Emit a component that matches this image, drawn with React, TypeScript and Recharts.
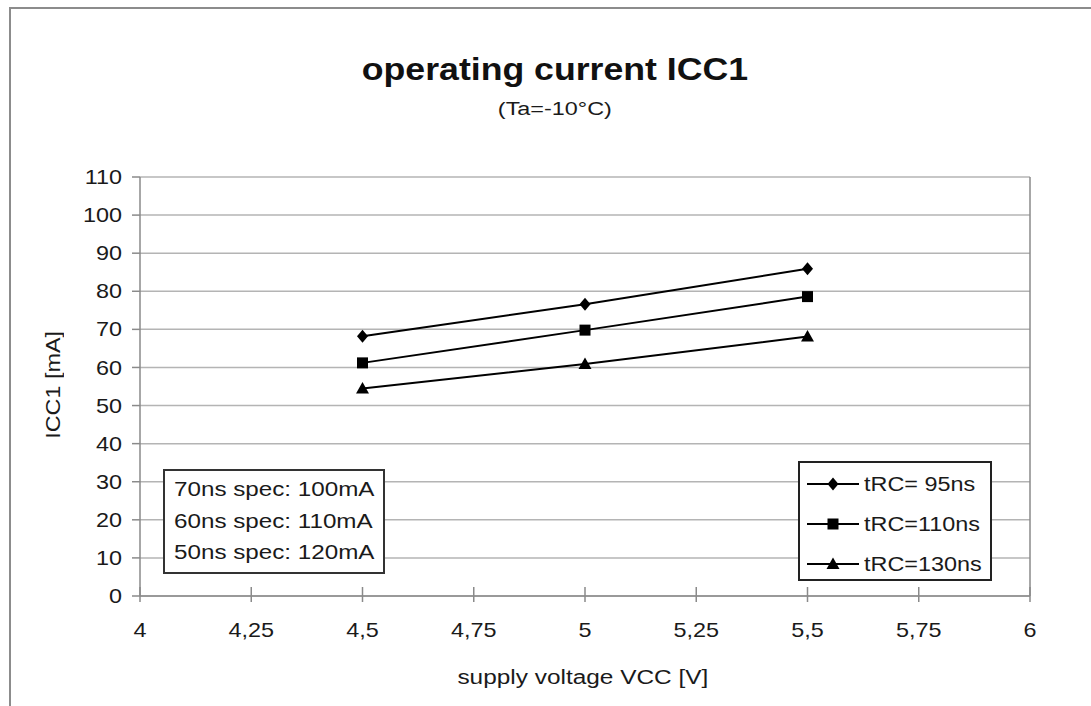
import React from 'react';
import { LineChart, Line, XAxis, YAxis, CartesianGrid, ReferenceLine, Legend } from 'recharts';

const voltages = [4.5, 5, 5.5];
const icc95 = [68.2, 76.6, 85.9];
const icc110 = [61.2, 69.8, 78.6];
const icc130 = [54.5, 60.9, 68.1];

const xTicks = [4, 4.25, 4.5, 4.75, 5, 5.25, 5.5, 5.75, 6];
const yTicks = [0, 10, 20, 30, 40, 50, 60, 70, 80, 90, 100, 110];

const seriesNames = ['tRC= 95ns', 'tRC=110ns', 'tRC=130ns'];
const specNotes = ['70ns spec: 100mA', '60ns spec: 110mA', '50ns spec: 120mA'];

const data = voltages.map((v, i) => ({ v, a: icc95[i], b: icc110[i], c: icc130[i] }));

const FONT = '"Liberation Sans", Arial, Helvetica, sans-serif';
const X_TICK_SIZE = 6;
const X_TICK_MARGIN = 21;
// the scanned original has slightly stretched lettering
const STRETCH = 1.17;

type Shape = 'diamond' | 'square' | 'triangle';

function marker(shape: Shape, cx: number, cy: number, key?: string | number) {
  if (shape === 'diamond') {
    return <path key={key} d={`M${cx},${cy - 6.5}L${cx + 5.5},${cy}L${cx},${cy + 6.5}L${cx - 5.5},${cy}Z`} fill="#000" />;
  }
  if (shape === 'square') {
    return <rect key={key} x={cx - 5.5} y={cy - 5.5} width={11} height={11} fill="#000" />;
  }
  return <path key={key} d={`M${cx},${cy - 6.5}L${cx + 6.5},${cy + 5}L${cx - 6.5},${cy + 5}Z`} fill="#000" />;
}

const dotFor = (shape: Shape) => (p: any) => marker(shape, p.cx, p.cy, `${shape}-${p.index}`);

const XTick = (props: any) => {
  const { x, y, payload } = props;
  const axisY = y - X_TICK_SIZE - X_TICK_MARGIN;
  return (
    <g>
      <line x1={x} x2={x} y1={axisY - 9} y2={axisY} stroke="#8a8a8a" strokeWidth={1.5} />
      <text transform={`translate(${x},${y}) scale(${STRETCH},1)`} dy="0.71em" textAnchor="middle" fontSize={20} fill="#1a1a1a">
        {String(payload.value).replace('.', ',')}
      </text>
    </g>
  );
};

const YTick = (props: any) => {
  const { x, y, payload } = props;
  return (
    <text transform={`translate(${x + 1},${y}) scale(${STRETCH},1)`} dy="0.355em" textAnchor="end" fontSize={20} fill="#1a1a1a">
      {payload.value}
    </text>
  );
};

const Stretched = ({ children, k = STRETCH, origin = 'center' }: { children: React.ReactNode; k?: number; origin?: string }) => (
  <span style={{ display: 'inline-block', transform: `scaleX(${k})`, transformOrigin: origin, whiteSpace: 'pre' }}>{children}</span>
);

const shapes: Shape[] = ['diamond', 'square', 'triangle'];

const LegendBox = () => (
  <div
    style={{
      width: 194,
      height: 120,
      boxSizing: 'border-box',
      border: '2px solid #222',
      background: '#fff',
      paddingTop: 8,
      fontFamily: FONT,
    }}
  >
    {seriesNames.map((name, i) => (
      <div key={name} style={{ display: 'flex', alignItems: 'center', height: 40, marginTop: i === 0 ? -7 : 0 }}>
        <svg width={60} height={20} style={{ marginLeft: 7 }}>
          <line x1={0} x2={52} y1={10} y2={10} stroke="#000" strokeWidth={2} />
          {marker(shapes[i], 26, 10)}
        </svg>
        <span style={{ fontSize: 20, color: '#1a1a1a', marginLeft: -3 }}>
          <Stretched origin="left">{name}</Stretched>
        </span>
      </div>
    ))}
  </div>
);

export default function App() {
  return (
    <div
      style={{
        position: 'fixed',
        left: 0,
        top: 0,
        width: 1091,
        height: 706,
        overflow: 'hidden',
        background: '#fff',
        fontFamily: FONT,
      }}
    >
      <div
        style={{
          position: 'absolute',
          left: 9,
          top: 7,
          width: 1300,
          height: 900,
          border: '2px solid #8c8c8c',
        }}
      />
      <div style={{ position: 'absolute', left: 0, top: 0 }}>
        <LineChart width={1091} height={706} data={data} margin={{ top: 177, right: 61, bottom: 0, left: 0 }}>
          <CartesianGrid vertical={false} stroke="#b4b4b4" strokeWidth={1.5} />
          <XAxis
            dataKey="v"
            type="number"
            domain={[4, 6]}
            ticks={xTicks}
            interval={0}
            height={110}
            tickSize={X_TICK_SIZE}
            tickMargin={X_TICK_MARGIN}
            tick={<XTick />}
            stroke="#8a8a8a"
            strokeWidth={1.5}
          />
          <YAxis
            type="number"
            domain={[0, 110]}
            ticks={yTicks}
            interval={0}
            width={140}
            tickSize={8}
            tickMargin={11}
            tick={<YTick />}
            stroke="#8a8a8a"
            strokeWidth={1.5}
          />
          <ReferenceLine x={6} stroke="#8a8a8a" strokeWidth={1.5} />
          <Line dataKey="a" name={seriesNames[0]} stroke="#000" strokeWidth={2} dot={dotFor('diamond')} isAnimationActive={false} />
          <Line dataKey="b" name={seriesNames[1]} stroke="#000" strokeWidth={2} dot={dotFor('square')} isAnimationActive={false} />
          <Line dataKey="c" name={seriesNames[2]} stroke="#000" strokeWidth={2} dot={dotFor('triangle')} isAnimationActive={false} />
          <Legend
            layout="horizontal"
            verticalAlign="middle"
            align="center"
            content={<LegendBox />}
            wrapperStyle={{ position: 'absolute', left: 798, top: 461, width: 194, height: 120 }}
          />
        </LineChart>
      </div>
      <div
        style={{
          position: 'absolute',
          left: 0,
          width: 1110,
          top: 52,
          textAlign: 'center',
          fontSize: 31,
          fontWeight: 'bold',
          color: '#111',
          lineHeight: '36px',
        }}
      >
        <Stretched k={1.15}>operating current ICC1</Stretched>
      </div>
      <div
        style={{
          position: 'absolute',
          left: 0,
          width: 1110,
          top: 98,
          textAlign: 'center',
          fontSize: 18,
          color: '#1a1a1a',
          lineHeight: '22px',
        }}
      >
        <Stretched k={1.3}>(Ta=-10°C)</Stretched>
      </div>
      <div
        style={{
          position: 'absolute',
          left: 53 - 100,
          top: 385 - 12,
          width: 200,
          height: 24,
          lineHeight: '24px',
          textAlign: 'center',
          transform: 'rotate(-90deg)',
          fontSize: 20,
          color: '#1a1a1a',
        }}
      >
        <Stretched>ICC1 [mA]</Stretched>
      </div>
      <div
        style={{
          position: 'absolute',
          left: 583 - 200,
          width: 400,
          top: 665,
          lineHeight: '24px',
          textAlign: 'center',
          fontSize: 20,
          color: '#1a1a1a',
        }}
      >
        <Stretched k={1.22}>supply voltage VCC [V]</Stretched>
      </div>
      <div
        style={{
          position: 'absolute',
          left: 163,
          top: 469,
          width: 222,
          height: 105,
          boxSizing: 'border-box',
          border: '2px solid #333',
          background: '#fff',
          paddingLeft: 9,
          paddingTop: 3,
          fontSize: 20,
          color: '#1a1a1a',
          lineHeight: '31.5px',
          whiteSpace: 'nowrap',
        }}
      >
        {specNotes.map((s) => (
          <div key={s}>
            <Stretched k={1.21} origin="left">{s}</Stretched>
          </div>
        ))}
      </div>
    </div>
  );
}
